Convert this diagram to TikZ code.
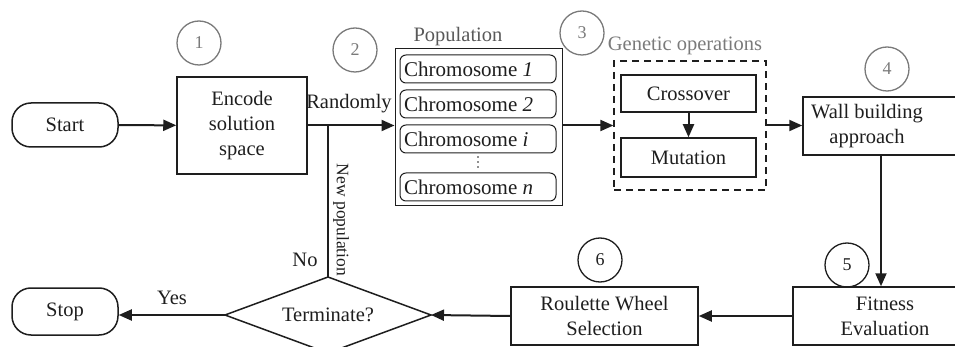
\documentclass[tikz,border=0pt]{standalone}
\usepackage{fontspec}
\setmainfont{Liberation Serif}
\usetikzlibrary{arrows.meta,calc}
\definecolor{ink}{HTML}{1E1E1E}
\definecolor{soft}{HTML}{7A7A7A}
\begin{document}
\begin{tikzpicture}[x=1pt,y=-1pt,
  every node/.style={font=\fontsize{20.5}{25}\selectfont, text=ink},
  box/.style={draw=ink, line width=1.5pt, align=center, inner sep=0pt},
  term/.style={box, rounded corners=19pt},
  chrom/.style={draw=ink, line width=1pt, rounded corners=6pt, minimum width=156pt, minimum height=28pt, inner sep=0pt},
  chromtext/.style={inner sep=0pt, anchor=west, font=\fontsize{21}{24}\selectfont},
  num/.style={circle, draw=#1, line width=1.3pt, minimum size=44pt, inner sep=0pt, text=#1, font=\fontsize{18}{20}\selectfont},
  arr/.style={draw=ink, line width=2pt, -{Triangle[length=13pt,width=11pt]}},
  link/.style={draw=ink, line width=1.8pt},
  note/.style={inner sep=0pt}]
\useasboundingbox (0,0) rectangle (955,347);
\clip (0,0) rectangle (955,347);

% terminals and process boxes
\node[term, minimum width=106pt, minimum height=44pt] (start) at (65,125) {Start};
\node[box, minimum width=130pt, minimum height=97pt] (enc) at (242,125.5) {Encode\\solution\\space};

% population of chromosomes
\node[draw=ink, line width=1pt, minimum width=167pt, minimum height=157pt, inner sep=0pt] (pop) at (478.5,127.5) {};
\node[note, text=black!65] (poptitle) at (458,37) {Population};
\node[chrom] (ch1) at (478,69) {};
\node[chrom] (ch2) at (478,104) {};
\node[chrom] (chi) at (478,139) {};
\node[chrom] (chn) at (478,187) {};
\node[chromtext] (t1) at (404,69) {Chromosome \textit{1}};
\node[chromtext] (t2) at (404,104) {Chromosome \textit{2}};
\node[chromtext] (ti) at (404,139) {Chromosome \textit{i}};
\node[chromtext] (tn) at (404,187) {Chromosome \textit{n}};
% ellipsis between the listed chromosomes
\foreach \yy in {157,162,167} \fill[ink] (478,\yy) circle (0.9pt);

% genetic operations group
\node[draw=ink, line width=1.3pt, dash pattern=on 7pt off 5pt, minimum width=152pt, minimum height=129pt, inner sep=0pt] (gen) at (690,125.5) {};
\node[note, text=soft] (gentitle) at (685,46) {Genetic operations};
\node[box, minimum width=135pt, minimum height=37pt] (cross) at (688.5,93.5) {Crossover};
\node[box, minimum width=135pt, minimum height=39pt] (mut) at (688.5,157.5) {Mutation};

% boxes running off the right edge
\node[box, minimum width=156pt, minimum height=58pt] (wall) at (881,126) {};
\node[note, align=center] (walltxt) at (867,126) {Wall building\\approach};
\node[box, minimum width=166pt, minimum height=58pt] (fit) at (876,316) {};
\node[note, align=center] (fittxt) at (885,316) {Fitness\\Evaluation};
\node[box, minimum width=187pt, minimum height=58pt] (roul) at (604.5,316) {Roulette Wheel\\Selection};

% decision
\coordinate (dtop) at (328,277);
\coordinate (dright) at (431,315);
\coordinate (dbot) at (328,353);
\coordinate (dleft) at (225,315);
\draw[ink, line width=1.5pt, line join=miter] (dtop) -- (dright) -- (dbot) -- (dleft) -- cycle;
\node[note] (termq) at (328,315) {Terminate?};
\node[term, minimum width=106pt, minimum height=47pt] (stop) at (65,311.5) {Stop};

% step numbers
\node[num=soft] (c1) at (199,43) {1};
\node[num=soft] (c2) at (355,50) {2};
\node[num=soft] (c3) at (582,33) {3};
\node[num=soft] (c4) at (887,69) {4};
\node[num=ink] (c5) at (847,265) {5};
\node[num=ink] (c6) at (600,260) {6};

% connectors
\draw[arr] (start) -- (enc);
\draw[arr] (enc.east) -- (enc.east -| pop.west);
\draw[link] (dtop) -- (dtop |- enc.east);
\draw[arr] (gen.west -| pop.east) -- (gen.west);
\draw[arr] (cross) -- (mut);
\draw[arr] (gen.east) -- (gen.east -| wall.west);
\draw[arr] (wall.south) -- (wall.south |- fit.north);
\draw[arr] (fit.west) -- (roul.east);
\draw[arr] (roul.west) -- (dright);
\draw[arr] (dleft) -- (dleft -| stop.east);

% connector labels
\node[note] (lrand) at (349,104) {Randomly};
\node[note, rotate=-90, font=\fontsize{17.5}{20}\selectfont] (lnew) at (341,220) {New population};
\node[note] (lno) at (305,260) {No};
\node[note] (lyes) at (172,298) {Yes};
\end{tikzpicture}
\end{document}
